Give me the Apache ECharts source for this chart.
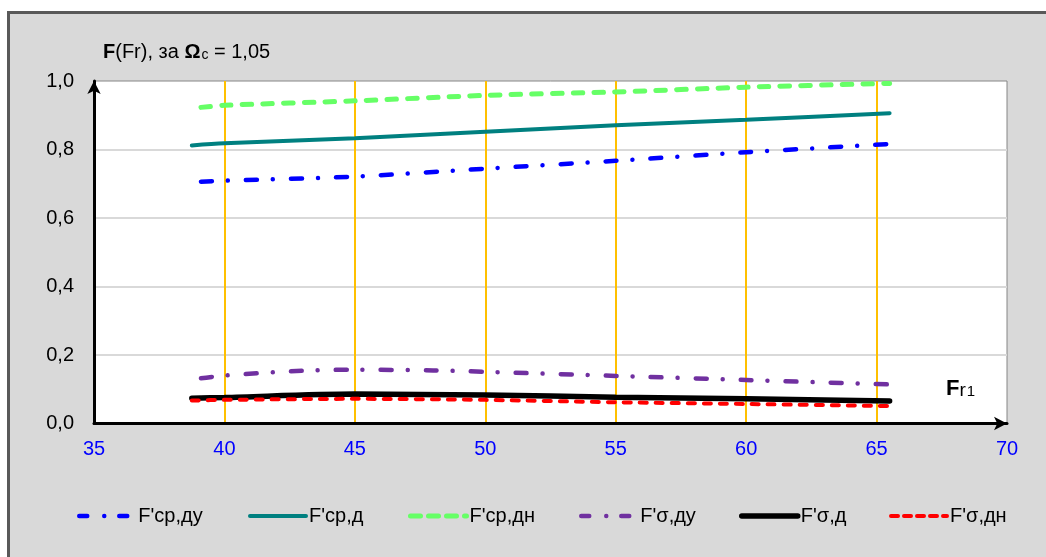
<!DOCTYPE html>
<html>
<head>
<meta charset="utf-8">
<script src="https://cdn.jsdelivr.net/npm/echarts@6/dist/echarts.min.js"></script>
<style>
html,body{margin:0;padding:0;background:#fff;width:1046px;height:557px;overflow:hidden;}
#frame{position:absolute;left:7px;top:11px;width:1100px;height:600px;border:3px solid #595959;background:#d9d9d9;}
#chart{position:absolute;left:0;top:0;width:1046px;height:557px;}
</style>
</head>
<body>
<div id="frame"></div>
<div id="chart"></div>
<script>
// ---- data ----
const seriesNames = ["F'ср,ду", "F'ср,д", "F'ср,дн", "F'σ,ду", "F'σ,д", "F'σ,дн"];
const xLate  = [39.1, 40, 45, 50, 55, 60, 65.5];
const xEarly = [38.75, 40, 45, 50, 55, 60, 65.5];
const xPurple = [39.1, 40, 43, 45, 48, 50, 55, 60, 65.5];
const cpDu  = [0.706, 0.709, 0.721, 0.744, 0.767, 0.792, 0.816];
const cpD   = [0.812, 0.818, 0.833, 0.852, 0.871, 0.887, 0.906];
const cpDn  = [0.923, 0.929, 0.942, 0.958, 0.968, 0.982, 0.993];
const sDu   = [0.132, 0.140, 0.154, 0.157, 0.155, 0.151, 0.139, 0.127, 0.114];
const sD    = [0.074, 0.076, 0.086, 0.083, 0.077, 0.072, 0.066];
const sDn   = [0.067, 0.069, 0.072, 0.069, 0.062, 0.057, 0.051];
const xTicks = [35, 40, 45, 50, 55, 60, 65, 70];
const yTicks = [0, 0.2, 0.4, 0.6, 0.8, 1.0];

const FONT = "'Liberation Sans', Arial, sans-serif";
const pair = (xs, ys) => xs.map((x, i) => [x, ys[i]]);

const styles = [
  {color:'#0000ff', width:4.5, type:[11,16,0.01,18]},
  {color:'#008080', width:4, type:'solid'},
  {color:'#66ff66', width:5, type:[9.5,11.2]},
  {color:'#7030a0', width:4.5, type:[11,16,0.01,18]},
  {color:'#000000', width:5.5, type:'solid'},
  {color:'#ff0000', width:4, type:[7,9]}
];
const legendTypes = [[8,17,0.01,15], 'solid', [10,8], [8,17,0.01,15], 'solid', [7,6]];
const dataSets = [pair(xLate,cpDu), pair(xEarly,cpD), pair(xLate,cpDn), pair(xPurple,sDu), pair(xEarly,sD), pair(xEarly,sDn)];

const series = seriesNames.map((n, i) => ({
  name: n, type: 'line', data: dataSets[i], smooth: 0.3, symbol: 'none', showSymbol: false,
  lineStyle: {color: styles[i].color, width: styles[i].width, type: styles[i].type, cap: 'round'},
  itemStyle: {color: styles[i].color},
  z: 3 + i
}));

const legendLeft = [72, 243, 403, 574, 734, 884];
const legends = seriesNames.map((n, i) => ({
  data: [n], left: legendLeft[i], top: 501, itemWidth: 56, itemHeight: 14, itemGap: 0,
  itemStyle: {opacity: 0},
  lineStyle: {color: styles[i].color, width: styles[i].width, type: legendTypes[i], cap: 'round'},
  textStyle: {fontFamily: FONT, fontSize: 20, color: '#000', padding: [0,0,0,-2]},
  selectedMode: false
}));

const chart = echarts.init(document.getElementById('chart'), null, {renderer: 'canvas'});
chart.setOption({
  backgroundColor: 'transparent',
  animation: false,
  title: [
    {
      left: 98, top: 37,
      text: '{b|F}{n|(Fr), за }{b|Ω}{s|c}{n| = 1,05}',
      textStyle: {
        fontWeight: 'normal',
        rich: {
          b: {fontFamily: FONT, fontSize: 20, fontWeight: 'bold', color: '#000'},
          n: {fontFamily: FONT, fontSize: 20, fontWeight: 'normal', color: '#000'},
          s: {fontFamily: FONT, fontSize: 14, fontWeight: 'normal', color: '#000', verticalAlign: 'bottom', padding: [4,0,0,1]}
        }
      }
    },
    {
      left: 941, top: 373,
      text: '{b|F}{n|r}{s|1}',
      textStyle: {
        fontWeight: 'normal',
        rich: {
          b: {fontFamily: FONT, fontSize: 22, fontWeight: 'bold', color: '#000'},
          n: {fontFamily: FONT, fontSize: 19, fontWeight: 'normal', color: '#000', verticalAlign: 'bottom'},
          s: {fontFamily: FONT, fontSize: 15, fontWeight: 'normal', color: '#000', verticalAlign: 'bottom', padding: [0,0,1,1]}
        }
      }
    }
  ],
  legend: legends,
  grid: {left: 94, right: 39, top: 81, bottom: 133.5, show: true, backgroundColor: '#ffffff', borderColor: '#868686', borderWidth: 1},
  xAxis: {
    type: 'value', min: xTicks[0], max: xTicks[xTicks.length-1], interval: 5,
    axisLine: {show: true, onZero: false, lineStyle: {color: '#000', width: 3}, symbol: ['none','arrow'], symbolSize: [10,13], symbolOffset: [0, 0]},
    axisTick: {show: false},
    axisLabel: {color: '#0000ff', fontFamily: FONT, fontSize: 20, margin: 16},
    splitLine: {show: true, showMinLine: false, showMaxLine: false, lineStyle: {color: '#ffc000', width: 2}}
  },
  yAxis: {
    type: 'value', min: yTicks[0], max: yTicks[yTicks.length-1], interval: 0.2,
    axisLine: {show: true, onZero: false, lineStyle: {color: '#000', width: 3}, symbol: ['none','arrow'], symbolSize: [10,13], symbolOffset: [0, 0]},
    axisTick: {show: false},
    axisLabel: {color: '#000', fontFamily: FONT, fontSize: 20, margin: 20, formatter: v => v.toFixed(1).replace('.', ',')},
    splitLine: {show: true, showMinLine: false, showMaxLine: false, lineStyle: {color: '#d9d9d9', width: 2}}
  },
  series: series
});
</script>
</body>
</html>
